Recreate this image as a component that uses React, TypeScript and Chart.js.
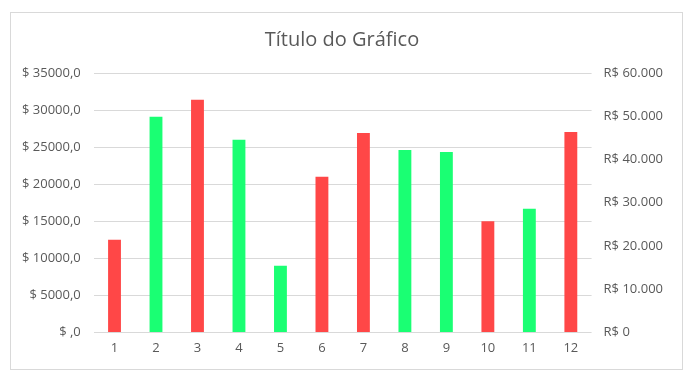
import React, { useEffect, useRef } from "react";
import { Chart, registerables } from "chart.js";

Chart.register(...registerables);

const categories = ["1", "2", "3", "4", "5", "6", "7", "8", "9", "10", "11", "12"];
const values = [12500, 29100, 31400, 26000, 9000, 21000, 26900, 24600, 24350, 15000, 16700, 27050];
const barColors = ["#FF4747", "#1AFF73", "#FF4747", "#1AFF73", "#1AFF73", "#FF4747", "#FF4747", "#1AFF73", "#1AFF73", "#FF4747", "#1AFF73", "#FF4747"];
const titleText = "Título do Gráfico";
const leftMax = 35000;
const leftStep = 5000;
const rightMax = 60000;
const rightStep = 10000;

const fontFamily = "'Open Sans', 'Noto Sans', sans-serif";
const textColor = "#595959";

export default function App() {
  const ref = useRef<HTMLCanvasElement | null>(null);
  useEffect(() => {
    if (!ref.current) return;
    const chart = new Chart(ref.current, {
      type: "bar",
      data: {
        labels: categories,
        datasets: [
          {
            data: values,
            backgroundColor: barColors,
            borderWidth: 0,
            barPercentage: 0.62,
            categoryPercentage: 0.5,
            yAxisID: "y",
          },
        ],
      },
      options: {
        animation: false,
        responsive: true,
        maintainAspectRatio: false,
        layout: { padding: { left: -2, right: 7, top: 10, bottom: 5 } },
        plugins: {
          legend: { display: false },
          tooltip: { enabled: false },
          title: {
            display: true,
            text: titleText,
            color: textColor,
            font: { family: fontFamily, size: 20, weight: "normal" },
            padding: { top: 5, bottom: 21 },
          },
        },
        scales: {
          x: {
            grid: { display: false, drawTicks: false },
            border: { display: false },
            ticks: { color: textColor, font: { family: fontFamily, size: 13 }, padding: 8 },
          },
          y: {
            position: "left",
            min: 0,
            max: leftMax,
            grid: { color: "#D9D9D9", drawTicks: false, lineWidth: 1 },
            border: { display: false },
            ticks: {
              stepSize: leftStep,
              color: textColor,
              font: { family: fontFamily, size: 13 },
              padding: 13,
              callback: (v: any) => (v === 0 ? "$ ,0" : "$ " + v + ",0"),
            },
          },
          y1: {
            position: "right",
            min: 0,
            max: rightMax,
            grid: { display: false, drawTicks: false },
            border: { display: false },
            ticks: {
              stepSize: rightStep,
              color: textColor,
              font: { family: fontFamily, size: 13 },
              padding: 12,
              callback: (v: any) => "R$ " + Number(v).toLocaleString("pt-BR"),
            },
          },
        },
      },
    });
    return () => chart.destroy();
  }, []);
  return (
    <div
      style={{
        position: "absolute",
        left: 10,
        top: 12,
        width: 673,
        height: 358,
        border: "1px solid #D9D9D9",
        boxSizing: "border-box",
        background: "#fff",
      }}
    >
      <canvas ref={ref} />
    </div>
  );
}
